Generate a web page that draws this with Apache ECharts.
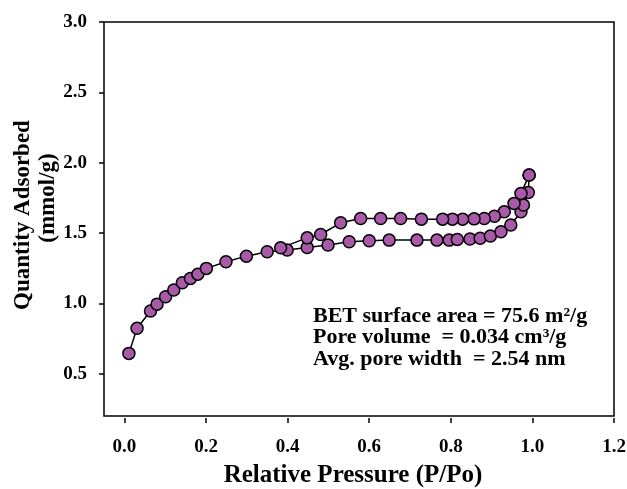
<!DOCTYPE html>
<html>
<head>
<meta charset="utf-8">
<script src="https://cdn.jsdelivr.net/npm/echarts@6/dist/echarts.min.js"></script>
<style>html,body{margin:0;padding:0;background:#fff}#c{width:627px;height:489px}</style>
</head>
<body>
<div id="c"></div>
<script>
const adsorptionP = [0.011,0.031,0.064,0.080,0.101,0.121,0.142,0.162,0.180,0.201,0.249,0.299,0.350,0.399,0.448,0.499,0.551,0.600,0.649,0.717,0.766,0.796,0.816,0.847,0.872,0.897,0.923,0.947,0.972,0.978,0.990,0.992];
const adsorptionQ = [0.645,0.823,0.946,0.995,1.047,1.095,1.147,1.178,1.208,1.249,1.296,1.336,1.367,1.379,1.398,1.415,1.438,1.445,1.450,1.450,1.450,1.450,1.455,1.458,1.463,1.479,1.509,1.557,1.651,1.699,1.789,1.912];
const desorptionP = [0.992,0.972,0.955,0.931,0.907,0.882,0.857,0.829,0.804,0.780,0.728,0.677,0.628,0.579,0.530,0.481,0.448,0.383];
const desorptionQ = [1.912,1.782,1.711,1.651,1.620,1.604,1.601,1.599,1.599,1.599,1.599,1.604,1.604,1.604,1.573,1.490,1.466,1.395];
const xTicks = [0.0,0.2,0.4,0.6,0.8,1.0,1.2];
const yTicks = [0.5,1.0,1.5,2.0,2.5,3.0];
const annotationLines = ['BET surface area = 75.6 m\u00b2/g','Pore volume  = 0.034 cm\u00b3/g','Avg. pore width  = 2.54 nm'];

const FONT = 'Liberation Serif';
const G = {left:104, right:13, top:22, bottom:73, w:627, h:489};
const X_MIN = -0.05, X_MAX = 1.2, Y_MIN = 0.2, Y_MAX = 3.0;
const TICK = 5;
const plotW = G.w - G.left - G.right, plotH = G.h - G.top - G.bottom;
const xTickLeft = G.left + (xTicks[0] - X_MIN) / (X_MAX - X_MIN) * plotW;
const yTickBottom = G.bottom + (yTicks[0] - Y_MIN) / (Y_MAX - Y_MIN) * plotH;

const zip = (a,b) => a.map((v,i)=>[v,b[i]]);
const chart = echarts.init(document.getElementById('c'), null, {renderer:'canvas'});
const markerStyle = {color:'#a85aa8', borderColor:'#000', borderWidth:1.5};
const lineSeries = (name, data) => ({
  name, type:'line', data, symbol:'circle', symbolSize:12, xAxisIndex:0, yAxisIndex:0,
  lineStyle:{color:'#000', width:1.5}, itemStyle:markerStyle, animation:false
});
const labelStyle = {fontFamily:FONT, fontWeight:'bold', fontSize:19, color:'#000'};
const tickLines = {show:true, lineStyle:{color:'#000', width:1.5}};
const hiddenAxis = (gridIndex, min, max) => ({type:'value', gridIndex, min, max, show:false});
const gBase = {containLabel:false, outerBoundsMode:'none'};
chart.setOption({
  animation:false,
  grid:[
    Object.assign({left:G.left, right:G.right, top:G.top, bottom:G.bottom, show:true, borderColor:'#000', borderWidth:1.5, backgroundColor:'transparent'}, gBase),
    // narrow strip left of the frame: its split lines are the y ticks
    Object.assign({left:G.left - TICK, right:G.w - G.left, top:G.top, bottom:yTickBottom, show:false}, gBase),
    // narrow strip below the frame (small gap): its split lines are the x ticks
    Object.assign({left:xTickLeft, right:G.right, top:G.h - G.bottom + 2, bottom:G.bottom - 2 - TICK, show:false}, gBase)
  ],
  xAxis:[
    {type:'value', gridIndex:0, min:X_MIN, max:X_MAX,
     axisLine:{show:false, onZero:false}, axisTick:{show:false}, axisLabel:{show:false}, splitLine:{show:false},
     name:'Relative Pressure (P/Po)', nameLocation:'middle', nameGap:47,
     nameTextStyle:{fontFamily:FONT, fontWeight:'bold', fontSize:25, color:'#000', padding:[0,12,0,0]}},
    hiddenAxis(1, 0, 1),
    {type:'value', gridIndex:2, position:'bottom', min:xTicks[0], max:xTicks[xTicks.length-1], interval:0.2,
     axisLine:{show:false, onZero:false}, axisTick:{show:false},
     axisLabel:Object.assign({formatter:v=>v.toFixed(1), margin:15}, labelStyle), splitLine:tickLines}
  ],
  yAxis:[
    {type:'value', gridIndex:0, min:Y_MIN, max:Y_MAX,
     axisLine:{show:false, onZero:false}, axisTick:{show:false}, axisLabel:{show:false}, splitLine:{show:false}},
    {type:'value', gridIndex:1, position:'left', min:yTicks[0], max:yTicks[yTicks.length-1], interval:0.5,
     axisLine:{show:false, onZero:false}, axisTick:{show:false},
     axisLabel:Object.assign({formatter:v=>v.toFixed(1), margin:12}, labelStyle), splitLine:tickLines},
    hiddenAxis(2, 0, 1)
  ],
  graphic:[
    {type:'text', x:23, y:215, rotation:Math.PI/2, style:{text:'Quantity Adsorbed', textAlign:'center', textVerticalAlign:'middle', font:'bold 23px "Liberation Serif"', fill:'#000'}},
    {type:'text', x:48, y:198, rotation:Math.PI/2, style:{text:'(mmol/g)', textAlign:'center', textVerticalAlign:'middle', font:'bold 23px "Liberation Serif"', fill:'#000'}},
    ...annotationLines.map((t,i)=>({type:'text', x:313, y:316+i*21.5, style:{text:t, textAlign:'left', textVerticalAlign:'middle', font:'bold 22px "Liberation Serif"', fill:'#000'}}))
  ],
  series:[
    lineSeries('Adsorption', zip(adsorptionP, adsorptionQ)),
    lineSeries('Desorption', zip(desorptionP, desorptionQ))
  ]
});
</script>
</body>
</html>
